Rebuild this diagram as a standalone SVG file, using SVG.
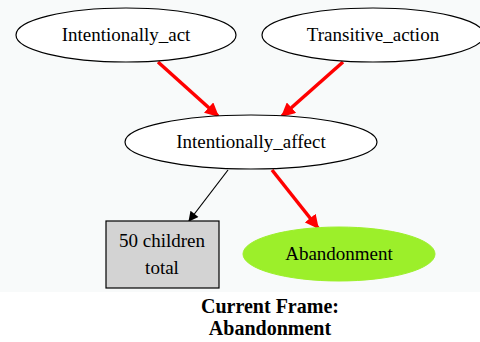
<svg xmlns="http://www.w3.org/2000/svg" width="480" height="342" viewBox="0 0 480 342">
<defs>
<style>
.n{stroke:#000;stroke-width:1.2}
.t{font-family:'Liberation Serif',serif;font-size:19px;text-anchor:middle;fill:#000}
.red{stroke:#f00;stroke-width:3.5;fill:none}
.blk{stroke:#000;stroke-width:1.2;fill:none}
.title{font-family:'Liberation Serif',serif;font-size:20px;font-weight:bold;text-anchor:middle;fill:#000}
</style>
<marker id="ar" viewBox="0 0 10 10" refX="9" refY="5" markerWidth="4" markerHeight="4" orient="auto" markerUnits="strokeWidth"><path d="M0,0L10,5L0,10z" fill="#f00"/></marker>
<marker id="ab" viewBox="0 0 10 10" refX="9" refY="5" markerWidth="12" markerHeight="10" orient="auto" markerUnits="userSpaceOnUse"><path d="M0,0L10,5L0,10z" fill="#000"/></marker>
</defs>
<rect width="480" height="342" fill="#fff"/>
<rect width="480" height="292" fill="#f8fafa"/>
<g id="edges">
<line class="red" x1="158" y1="62" x2="218" y2="116" marker-end="url(#ar)"/>
<line class="red" x1="343" y1="62" x2="282" y2="116" marker-end="url(#ar)"/>
<line class="red" x1="272" y1="170" x2="318" y2="228" marker-end="url(#ar)"/>
<line class="blk" x1="228" y1="170" x2="189" y2="221" marker-end="url(#ab)"/>
</g>
<g id="intentionally_act">
<ellipse class="n" cx="126" cy="35" rx="110" ry="27" fill="#fff"/>
<text class="t" x="126" y="41">Intentionally_act</text>
</g>
<g id="transitive_action">
<ellipse class="n" cx="373" cy="35" rx="111" ry="27" fill="#fff"/>
<text class="t" x="373" y="41">Transitive_action</text>
</g>
<g id="intentionally_affect">
<ellipse class="n" cx="251" cy="142" rx="126" ry="27" fill="#fff"/>
<text class="t" x="251" y="148">Intentionally_affect</text>
</g>
<g id="children">
<rect class="n" x="106" y="221" width="113" height="67" fill="#d3d3d3"/>
<text class="t" x="162" y="247">50 children</text>
<text class="t" x="162" y="274">total</text>
</g>
<g id="abandonment">
<ellipse cx="339" cy="254" rx="96" ry="27" fill="#9cef2a" stroke="#9cef2a"/>
<text class="t" x="339" y="260">Abandonment</text>
</g>
<g id="title">
<text class="title" x="270" y="313">Current Frame:</text>
<text class="title" x="270" y="335">Abandonment</text>
</g>
</svg>
